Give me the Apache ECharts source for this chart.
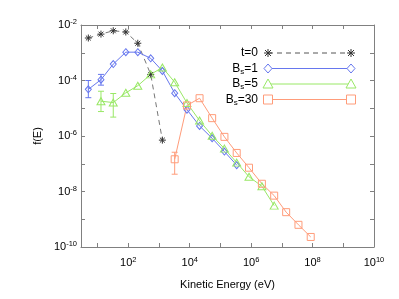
<!DOCTYPE html>
<html>
<head>
<meta charset="utf-8">
<script src="https://cdn.jsdelivr.net/npm/echarts@6/dist/echarts.min.js"></script>
<style>html,body{margin:0;padding:0;background:#fff;}#c{width:399px;height:299px;}</style>
</head>
<body>
<div id="c"></div>
<script>
// Energy grid (eV)
const energy = [5.0, 12.9, 32.4, 83, 204, 537, 1288, 3236, 8128, 20900, 53700, 134900, 338800, 851000, 2.24e6, 5.62e6, 1.38e7, 3.47e7, 8.71e7];
// f(E) for each case (null = no point)
const fT0  = [3.4e-3, 4.7e-3, 6.2e-3, 5.6e-3, 2.2e-3, 1.66e-4, 7.1e-7];
const fB1  = [4.8e-5, 1.07e-4, 3.9e-4, 1.05e-3, 1.05e-3, 6.3e-4, 2.2e-4, 3.5e-5, 8.9e-6, 2.3e-6, 8.3e-7, 2.75e-7, 8.9e-8];
const fB5  = [null, 1.8e-5, 1.6e-5, 3.6e-5, 6.5e-5, 1.66e-4, 2.95e-4, 8.7e-5, 1.55e-5, 3.6e-6, 1.02e-6, 3.5e-7, 1.1e-7, 3.4e-8, 1.55e-8, 3.1e-9];
const fB30 = [null, null, null, null, null, null, null, 1.45e-7, 1.26e-5, 2.3e-5, 4.4e-6, 9.3e-7, 2.45e-7, 7.2e-8, 1.9e-8, 7.1e-9, 1.8e-9, 6.3e-10, 2.3e-10];
// error bars: [index, upper, lower]
const errB1  = [[0, 1.0e-4, 2.4e-5], [1, 1.66e-4, 6.8e-5]];
const errB5  = [[1, 4.1e-5, 7.6e-6], [2, 3.4e-5, 4.8e-6]];
const errB30 = [[7, 2.6e-7, 4.2e-8]];
// axis ticks / labels
const xTicks  = [10, 100, 1e3, 1e4, 1e5, 1e6, 1e7, 1e8, 1e9, 1e10];
const xLabels = [100, 1e4, 1e6, 1e8, 1e10];
const legendNames = ['t=0', 'B_s=1', 'B_s=5', 'B_s=30'];

const colT0 = '#555555', colB1 = '#6677ee', colB5 = '#99e866', colB30 = '#ff9c7a';
const FONT = 'Liberation Sans, Arial, sans-serif';
const starPath = 'path://M0,-10L0,10M-10,0L10,0M-7,-7L7,7M-7,7L7,-7';

function pairs(arr) {
  const out = [];
  arr.forEach((v, i) => { if (v != null) out.push([energy[i], v]); });
  return out;
}
function errData(err) { return err.map(e => [energy[e[0]], e[1], e[2]]); }
function expLabel(v) {
  const e = Math.round(Math.log10(v));
  return '{b|10}{s|' + e + '}';
}
const rich = {
  b: { fontSize: 11, fontFamily: FONT, color: '#000', lineHeight: 14 },
  s: { fontSize: 7.5, fontFamily: FONT, color: '#000', verticalAlign: 'top', lineHeight: 14, padding: [0, 0, 6, 0] }
};

function errSeries(err, color) {
  return {
    type: 'custom', xAxisIndex: 0, yAxisIndex: 0, silent: true, z: 3,
    data: errData(err),
    renderItem: function (params, api) {
      const hi = api.coord([api.value(0), api.value(1)]);
      const lo = api.coord([api.value(0), api.value(2)]);
      const w = 3;
      const st = { stroke: color, lineWidth: 1 };
      return { type: 'group', children: [
        { type: 'line', shape: { x1: hi[0], y1: hi[1], x2: lo[0], y2: lo[1] }, style: st },
        { type: 'line', shape: { x1: hi[0] - w, y1: hi[1], x2: hi[0] + w, y2: hi[1] }, style: st },
        { type: 'line', shape: { x1: lo[0] - w, y1: lo[1], x2: lo[0] + w, y2: lo[1] }, style: st }
      ]};
    }
  };
}

const chart = echarts.init(document.getElementById('c'), null, { renderer: 'canvas' });

const axisLineStyle = { color: '#808080', width: 1 };
const baseX = {
  type: 'log', logBase: 10, min: 2.884, max: 1e10,
  axisLine: { show: true, onZero: false, lineStyle: axisLineStyle },
  axisTick: { show: true, inside: true, length: 4, lineStyle: axisLineStyle, customValues: xTicks },
  splitLine: { show: false }
};
const baseY = {
  type: 'log', logBase: 10, min: 1e-10, max: 1e-2, interval: 1,
  axisLine: { show: true, onZero: false, lineStyle: axisLineStyle },
  axisTick: { show: true, inside: true, length: 4, lineStyle: axisLineStyle },
  splitLine: { show: false }
};

// Legend graphics
const legTextX = 258, legLineX1 = 268, legLineX2 = 351, legY0 = 53, legDY = 15.5;
const legCols = [colT0, colB1, colB5, colB30];
const legSyms = ['star', 'diamond', 'triangle', 'rect'];
const graphics = [];
legendNames.forEach((name, i) => {
  const y = legY0 + i * legDY;
  let txt;
  if (name.indexOf('_') >= 0) {
    const parts = name.split('_');
    const rest = parts[1].slice(1);
    txt = '{n|' + parts[0] + '}{sub|' + parts[1][0] + '}{n|' + rest + '}';
  } else {
    txt = '{n|' + name + '}';
  }
  graphics.push({
    type: 'text', x: legTextX, y: y,
    style: {
      text: txt, align: 'right', verticalAlign: 'middle',
      rich: {
        n: { fontSize: 12, fontFamily: FONT, fill: '#000', lineHeight: 14 },
        sub: { fontSize: 8, fontFamily: FONT, fill: '#000', verticalAlign: 'bottom', lineHeight: 14, padding: [5, 0, 0, 0] }
      }
    }
  });
  graphics.push({
    type: 'line', shape: { x1: legLineX1, y1: y, x2: legLineX2, y2: y },
    style: { stroke: legCols[i], lineWidth: 1, lineDash: i === 0 ? [5, 4] : null }
  });
  [legLineX1, legLineX2].forEach(cx => {
    const c = legCols[i];
    let g;
    if (legSyms[i] === 'star') {
      g = { type: 'group', x: cx, y: y, children: [
        { type: 'line', shape: { x1: 0, y1: -4, x2: 0, y2: 4 }, style: { stroke: '#333', lineWidth: 1 } },
        { type: 'line', shape: { x1: -4, y1: 0, x2: 4, y2: 0 }, style: { stroke: '#333', lineWidth: 1 } },
        { type: 'line', shape: { x1: -3, y1: -3, x2: 3, y2: 3 }, style: { stroke: '#333', lineWidth: 1 } },
        { type: 'line', shape: { x1: -3, y1: 3, x2: 3, y2: -3 }, style: { stroke: '#333', lineWidth: 1 } }
      ]};
    } else if (legSyms[i] === 'diamond') {
      g = { type: 'polygon', shape: { points: [[cx, y - 4.5], [cx + 4, y], [cx, y + 4.5], [cx - 4, y]] }, style: { fill: '#fff', stroke: c, lineWidth: 1 } };
    } else if (legSyms[i] === 'triangle') {
      g = { type: 'polygon', shape: { points: [[cx, y - 5], [cx + 5, y + 4], [cx - 5, y + 4]] }, style: { fill: '#fff', stroke: c, lineWidth: 1 } };
    } else {
      g = { type: 'rect', shape: { x: cx - 4.5, y: y - 4.5, width: 9, height: 9 }, style: { fill: '#fff', stroke: c, lineWidth: 1 } };
    }
    graphics.push(g);
  });
});

const option = {
  animation: false,
  backgroundColor: '#fff',
  grid: { left: 81, right: 25, top: 25, bottom: 52, containLabel: false },
  xAxis: [
    Object.assign({}, baseX, {
      position: 'bottom',
      name: 'Kinetic Energy (eV)', nameLocation: 'middle', nameGap: 32,
      nameTextStyle: { fontSize: 11, fontFamily: FONT, color: '#000' },
      axisLabel: { show: true, margin: 9, customValues: xLabels, formatter: expLabel, rich: rich }
    }),
    Object.assign({}, baseX, { position: 'top', axisLabel: { show: false } })
  ],
  yAxis: [
    Object.assign({}, baseY, {
      position: 'left',
      name: 'f(E)', nameLocation: 'middle', nameGap: 38, nameRotate: 90,
      nameTextStyle: { fontSize: 11, fontFamily: FONT, color: '#000' },
      axisLabel: {
        show: true, margin: 4,
        formatter: function (v) {
          const e = Math.round(Math.log10(v));
          return (e % 2 === 0) ? expLabel(v) : '';
        },
        rich: rich
      }
    }),
    Object.assign({}, baseY, { position: 'right', axisLabel: { show: false } })
  ],
  series: [
    {
      name: 't=0', type: 'line', data: pairs(fT0), z: 4,
      symbol: starPath, symbolSize: 7,
      lineStyle: { color: '#777', width: 1, type: [5, 4] },
      itemStyle: { color: 'none', borderColor: '#333', borderWidth: 1 }
    },
    {
      name: 'B_s=1', type: 'line', data: pairs(fB1), z: 4,
      symbol: 'diamond', symbolSize: [6, 7],
      lineStyle: { color: colB1, width: 1 },
      itemStyle: { color: 'rgba(255,255,255,0)', borderColor: colB1, borderWidth: 1 }
    },
    {
      name: 'B_s=5', type: 'line', data: pairs(fB5), z: 4,
      symbol: 'triangle', symbolSize: [8, 7],
      lineStyle: { color: colB5, width: 1 },
      itemStyle: { color: 'rgba(255,255,255,0)', borderColor: colB5, borderWidth: 1 }
    },
    {
      name: 'B_s=30', type: 'line', data: pairs(fB30), z: 4,
      symbol: 'rect', symbolSize: 7,
      lineStyle: { color: colB30, width: 1 },
      itemStyle: { color: 'rgba(255,255,255,0)', borderColor: colB30, borderWidth: 1 }
    },
    errSeries(errB1, colB1),
    errSeries(errB5, colB5),
    errSeries(errB30, colB30)
  ],
  graphic: graphics
};
chart.setOption(option);
</script>
</body>
</html>
